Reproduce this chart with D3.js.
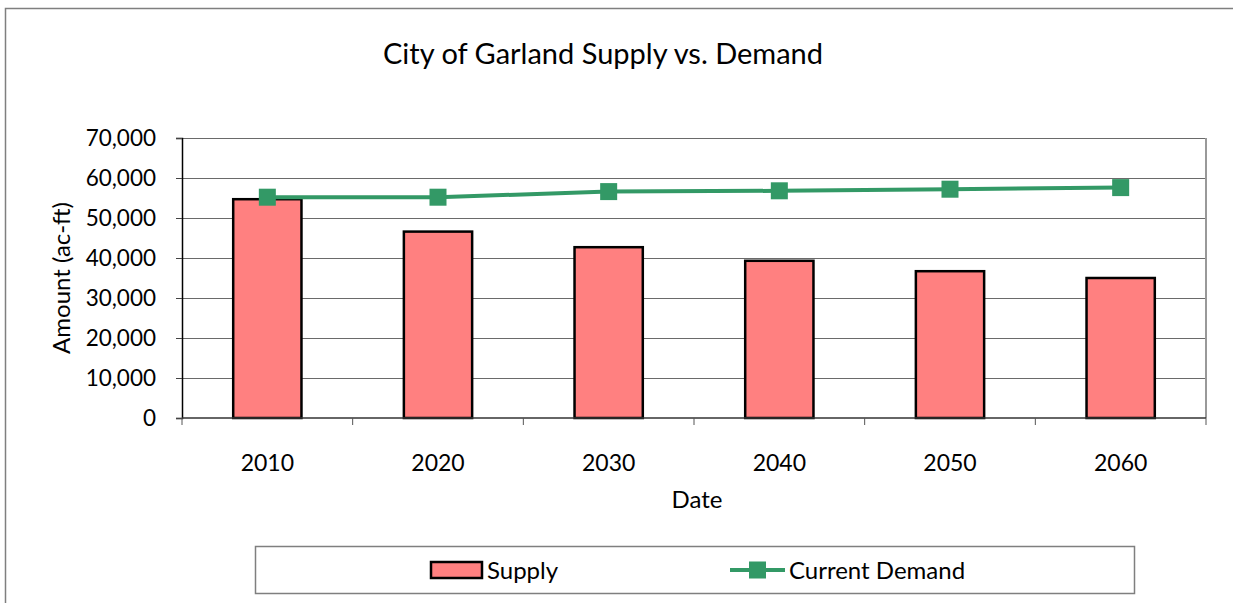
<!DOCTYPE html>
<html>
<head>
<meta charset="utf-8">
<script src="https://cdn.jsdelivr.net/npm/d3@7"></script>
<style>
  body { margin: 0; background: #fff; }
  svg text { font-family: Lato, "Open Sans", sans-serif; fill: #000; }
</style>
</head>
<body>
<div id="chart"></div>
<script>
// Data
const years = ["2010", "2020", "2030", "2040", "2050", "2060"];
const supply = [54700, 46600, 42700, 39300, 36700, 35000];
const demand = [55200, 55200, 56600, 56800, 57200, 57600];
const yTicks = [0, 10000, 20000, 30000, 40000, 50000, 60000, 70000];

const width = 1233, height = 603;
const plot = { left: 182, right: 1206, top: 138, bottom: 418 };

const colorSupply = "#ff8080";
const colorDemand = "#339966";

const svg = d3.select("#chart").append("svg")
    .attr("width", width)
    .attr("height", height);

// outer chart frame (runs off the picture on right and bottom)
svg.append("rect")
    .attr("x", 5.5).attr("y", 8.5)
    .attr("width", width + 20).attr("height", height + 20)
    .attr("fill", "#fff")
    .attr("stroke", "#7f7f7f")
    .attr("stroke-width", 1.5);

// Title
svg.append("text")
    .attr("x", 603).attr("y", 64)
    .attr("text-anchor", "middle")
    .style("font-size", "29px")
    .text("City of Garland Supply vs. Demand");

const x = d3.scaleBand().domain(years).range([plot.left, plot.right]).padding(0);
const y = d3.scaleLinear().domain([0, 70000]).range([plot.bottom, plot.top]);

// gridlines
svg.append("g")
    .selectAll("line")
    .data(yTicks.filter(d => d > 0))
    .join("line")
    .attr("x1", plot.left).attr("x2", plot.right)
    .attr("y1", d => Math.round(y(d)) + 0.5).attr("y2", d => Math.round(y(d)) + 0.5)
    .attr("stroke", "#6a6a6a")
    .attr("stroke-width", 1);

// plot right border
svg.append("line")
    .attr("x1", plot.right).attr("x2", plot.right)
    .attr("y1", plot.top).attr("y2", plot.bottom)
    .attr("stroke", "#999").attr("stroke-width", 2);

// y axis
const yAxis = svg.append("g")
    .attr("transform", `translate(${plot.left},0)`)
    .call(d3.axisLeft(y).tickValues(yTicks).tickSize(6).tickPadding(20)
        .tickFormat(d3.format(",")));
yAxis.select(".domain").attr("stroke", "#000").attr("stroke-width", 1.5);
yAxis.selectAll(".tick line").attr("stroke", "#444");
yAxis.selectAll("text")
    .style("font-size", "22.5px")
    .style("font-family", "Lato, 'Open Sans', sans-serif")
    .attr("fill", "#000");

svg.append("text")
    .attr("transform", `translate(70,${(plot.top + plot.bottom) / 2}) rotate(-90)`)
    .attr("text-anchor", "middle")
    .style("font-size", "24px")
    .text("Amount (ac-ft)");

// bars
const barW = x.bandwidth() * 0.4;
svg.append("g")
    .selectAll("rect")
    .data(supply)
    .join("rect")
    .attr("x", (d, i) => x(years[i]) + (x.bandwidth() - barW) / 2)
    .attr("y", d => y(d))
    .attr("width", barW)
    .attr("height", d => y(0) - y(d))
    .attr("fill", colorSupply)
    .attr("stroke", "#000")
    .attr("stroke-width", 2.5);

// x axis
const xTickPos = d3.range(years.length + 1).map(i => plot.left + i * x.bandwidth());
svg.append("line")
    .attr("x1", plot.left).attr("x2", plot.right)
    .attr("y1", plot.bottom).attr("y2", plot.bottom)
    .attr("stroke", "#333").attr("stroke-width", 1.5);
svg.append("g")
    .selectAll("line")
    .data(xTickPos)
    .join("line")
    .attr("x1", d => d).attr("x2", d => d)
    .attr("y1", plot.bottom).attr("y2", plot.bottom + 7)
    .attr("stroke", "#555");
svg.append("g")
    .selectAll("text")
    .data(years)
    .join("text")
    .attr("x", d => x(d) + x.bandwidth() / 2)
    .attr("y", 471)
    .attr("text-anchor", "middle")
    .style("font-size", "23px")
    .text(d => d);

svg.append("text")
    .attr("x", 697).attr("y", 508)
    .attr("text-anchor", "middle")
    .style("font-size", "24px")
    .text("Date");

// demand line
const line = d3.line()
    .x((d, i) => x(years[i]) + x.bandwidth() / 2)
    .y(d => y(d));
svg.append("path")
    .datum(demand)
    .attr("d", line)
    .attr("fill", "none")
    .attr("stroke", colorDemand)
    .attr("stroke-width", 4);
svg.append("g")
    .selectAll("rect")
    .data(demand)
    .join("rect")
    .attr("x", (d, i) => x(years[i]) + x.bandwidth() / 2 - 8.5)
    .attr("y", d => y(d) - 8.5)
    .attr("width", 17).attr("height", 17)
    .attr("fill", colorDemand);

// legend
const legend = svg.append("g");
legend.append("rect")
    .attr("x", 255.5).attr("y", 546.5)
    .attr("width", 879).attr("height", 47)
    .attr("fill", "#fff")
    .attr("stroke", "#7f7f7f").attr("stroke-width", 1.5);
legend.append("rect")
    .attr("x", 431).attr("y", 562)
    .attr("width", 51).attr("height", 16)
    .attr("fill", colorSupply)
    .attr("stroke", "#000").attr("stroke-width", 2.5);
legend.append("text")
    .attr("x", 487).attr("y", 579)
    .style("font-size", "24px")
    .text("Supply");
legend.append("line")
    .attr("x1", 730).attr("x2", 785)
    .attr("y1", 570).attr("y2", 570)
    .attr("stroke", colorDemand).attr("stroke-width", 4);
legend.append("rect")
    .attr("x", 749).attr("y", 561.5)
    .attr("width", 17).attr("height", 17)
    .attr("fill", colorDemand);
legend.append("text")
    .attr("x", 789).attr("y", 579)
    .style("font-size", "24px")
    .text("Current Demand");
</script>
</body>
</html>
